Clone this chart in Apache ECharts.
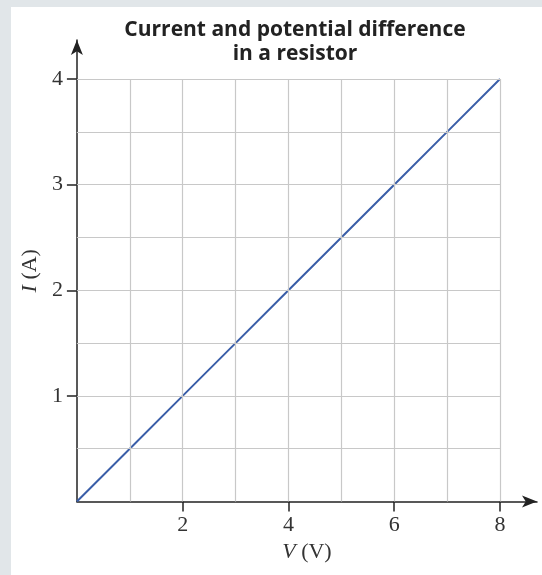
<!DOCTYPE html>
<html>
<head>
<meta charset="utf-8">
<script src="https://cdn.jsdelivr.net/npm/echarts@6/dist/echarts.min.js"></script>
<style>
  html, body { margin: 0; padding: 0; background: #e1e6e9; }
  #chart { position: absolute; left: 11px; top: 7px; width: 531px; height: 568px; background: #ffffff; }
</style>
</head>
<body>
<div id="chart"></div>
<script>
// Potential difference across the resistor (V) and current through it (A)
const voltage = [0, 1, 2, 3, 4, 5, 6, 7, 8];
const current = [0, 0.5, 1, 1.5, 2, 2.5, 3, 3.5, 4];

// Labelled ticks
const xTickLabels = [2, 4, 6, 8];
const yTickLabels = [1, 2, 3, 4];

// Graph-paper lines: every volt, every half amp
const xGridValues = [1, 2, 3, 4, 5, 6, 7, 8];
const yGridValues = [0.5, 1, 1.5, 2, 2.5, 3, 3.5, 4];

const xEnd = 8, yEnd = 4;

const gridLines = [];
xGridValues.forEach(v => gridLines.push([{ coord: [v, 0] }, { coord: [v, yEnd] }]));
yGridValues.forEach(v => gridLines.push([{ coord: [0, v] }, { coord: [xEnd, v] }]));

const serif = '"Liberation Serif", "DejaVu Serif", serif';

const chart = echarts.init(document.getElementById('chart'));
chart.setOption({
  animation: false,
  title: {
    text: 'Current and potential difference\nin a resistor',
    left: 279,
    top: 6,
    textAlign: 'center',
    textStyle: {
      fontFamily: '"Open Sans", sans-serif',
      fontWeight: 'bold',
      fontSize: 21,
      lineHeight: 24,
      color: '#222222'
    }
  },
  grid: { left: 64.5, right: 5, top: 33, bottom: 73.5 },
  xAxis: {
    type: 'value',
    min: 0,
    max: 8.7,
    interval: 1,
    name: '{i|V} (V)',
    nameLocation: 'middle',
    nameGap: 40,
    nameTextStyle: {
      fontFamily: serif, fontSize: 22, color: '#333333',
      rich: { i: { fontFamily: serif, fontSize: 22, fontStyle: 'italic', color: '#333333' } }
    },
    splitLine: { show: false },
    axisLine: {
      lineStyle: { color: '#222222', width: 1.5 },
      symbol: ['none', 'arrow'],
      symbolSize: [9, 15]
    },
    axisTick: { customValues: xTickLabels, length: 10, lineStyle: { color: '#222222', width: 1.5 } },
    axisLabel: {
      customValues: xTickLabels,
      margin: 13,
      fontFamily: serif, fontSize: 22, color: '#333333'
    }
  },
  yAxis: {
    type: 'value',
    min: 0,
    max: 4.37,
    interval: 0.5,
    name: '{i|I} (A)',
    nameLocation: 'middle',
    nameGap: 30,
    nameRotate: 90,
    nameTextStyle: {
      fontFamily: serif, fontSize: 22, color: '#333333',
      rich: { i: { fontFamily: serif, fontSize: 22, fontStyle: 'italic', color: '#333333' } }
    },
    splitLine: { show: false },
    axisLine: {
      lineStyle: { color: '#222222', width: 1.5 },
      symbol: ['none', 'arrow'],
      symbolSize: [9, 15]
    },
    axisTick: { customValues: yTickLabels, length: 10, lineStyle: { color: '#222222', width: 1.5 } },
    axisLabel: {
      customValues: yTickLabels,
      margin: 14,
      fontFamily: serif, fontSize: 22, color: '#333333'
    }
  },
  series: [
    {
      // graph-paper grid
      type: 'line',
      data: [],
      z: 1,
      silent: true,
      markLine: {
        silent: true,
        symbol: ['none', 'none'],
        label: { show: false },
        lineStyle: { color: '#c8c8c8', width: 1.2, type: 'solid' },
        emphasis: { disabled: true },
        data: gridLines
      }
    },
    {
      type: 'line',
      z: 3,
      data: voltage.map((v, i) => [v, current[i]]),
      showSymbol: false,
      lineStyle: { color: '#3a5ea8', width: 2 }
    }
  ]
});
</script>
</body>
</html>
